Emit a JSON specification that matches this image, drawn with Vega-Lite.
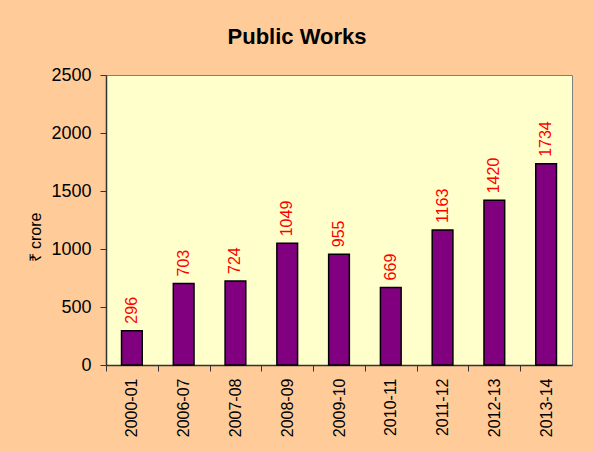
{
  "$schema": "https://vega.github.io/schema/vega-lite/v6.json",
  "width": 466,
  "height": 290,
  "autosize": {"type": "none"},
  "padding": {"left": 106, "top": 75, "right": 22, "bottom": 86},
  "background": "#FFCC99",
  "title": {
    "text": "Public Works",
    "font": "Liberation Sans",
    "fontSize": 22,
    "fontWeight": "bold",
    "color": "black",
    "anchor": "middle",
    "frame": "group",
    "dx": -42,
    "offset": 17
  },
  "config": {
    "view": {"fill": "#FFFFCC", "stroke": "#808080", "strokeWidth": 1},
    "font": "Liberation Sans"
  },
  "data": {
    "values": [
      {"year": "2000-01", "value": 296},
      {"year": "2006-07", "value": 703},
      {"year": "2007-08", "value": 724},
      {"year": "2008-09", "value": 1049},
      {"year": "2009-10", "value": 955},
      {"year": "2010-11", "value": 669},
      {"year": "2011-12", "value": 1163},
      {"year": "2012-13", "value": 1420},
      {"year": "2013-14", "value": 1734}
    ]
  },
  "encoding": {
    "x": {
      "field": "year",
      "type": "nominal",
      "sort": null,
      "scale": {"paddingInner": 0.6, "paddingOuter": 0.3},
      "axis": {
        "title": null,
        "labelAngle": -90,
        "labelAlign": "right",
        "labelBaseline": "middle",
        "labelFontSize": 16,
        "labelColor": "black",
        "labelPadding": 7,
        "tickOffset": -25.9,
        "labelOffset": 25.9,
        "tickSize": 6,
        "tickColor": "#333333",
        "domainColor": "#333333",
        "domainWidth": 1.5
      }
    },
    "y": {
      "field": "value",
      "type": "quantitative",
      "scale": {"domain": [0, 2500], "nice": false},
      "axis": {
        "title": "₹ crore",
        "titleFontSize": 16,
        "titleFontWeight": "normal",
        "titleColor": "black",
        "titleX": -71,
        "titleY": 162,
        "titleAngle": -90,
        "titleAlign": "center",
        "titleBaseline": "middle",
        "values": [0, 500, 1000, 1500, 2000, 2500],
        "format": "d",
        "grid": false,
        "labelFontSize": 18,
        "labelColor": "black",
        "labelPadding": 9,
        "tickSize": 6,
        "tickColor": "#333333",
        "domainColor": "#333333",
        "domainWidth": 1.5
      }
    }
  },
  "layer": [
    {
      "mark": {"type": "bar", "color": "#800080", "stroke": "black", "strokeWidth": 1.5}
    },
    {
      "mark": {
        "type": "text",
        "angle": 270,
        "align": "left",
        "baseline": "middle",
        "dx": 7,
        "fontSize": 16,
        "color": "#FF0000"
      },
      "encoding": {"text": {"field": "value", "type": "quantitative"}}
    }
  ]
}
